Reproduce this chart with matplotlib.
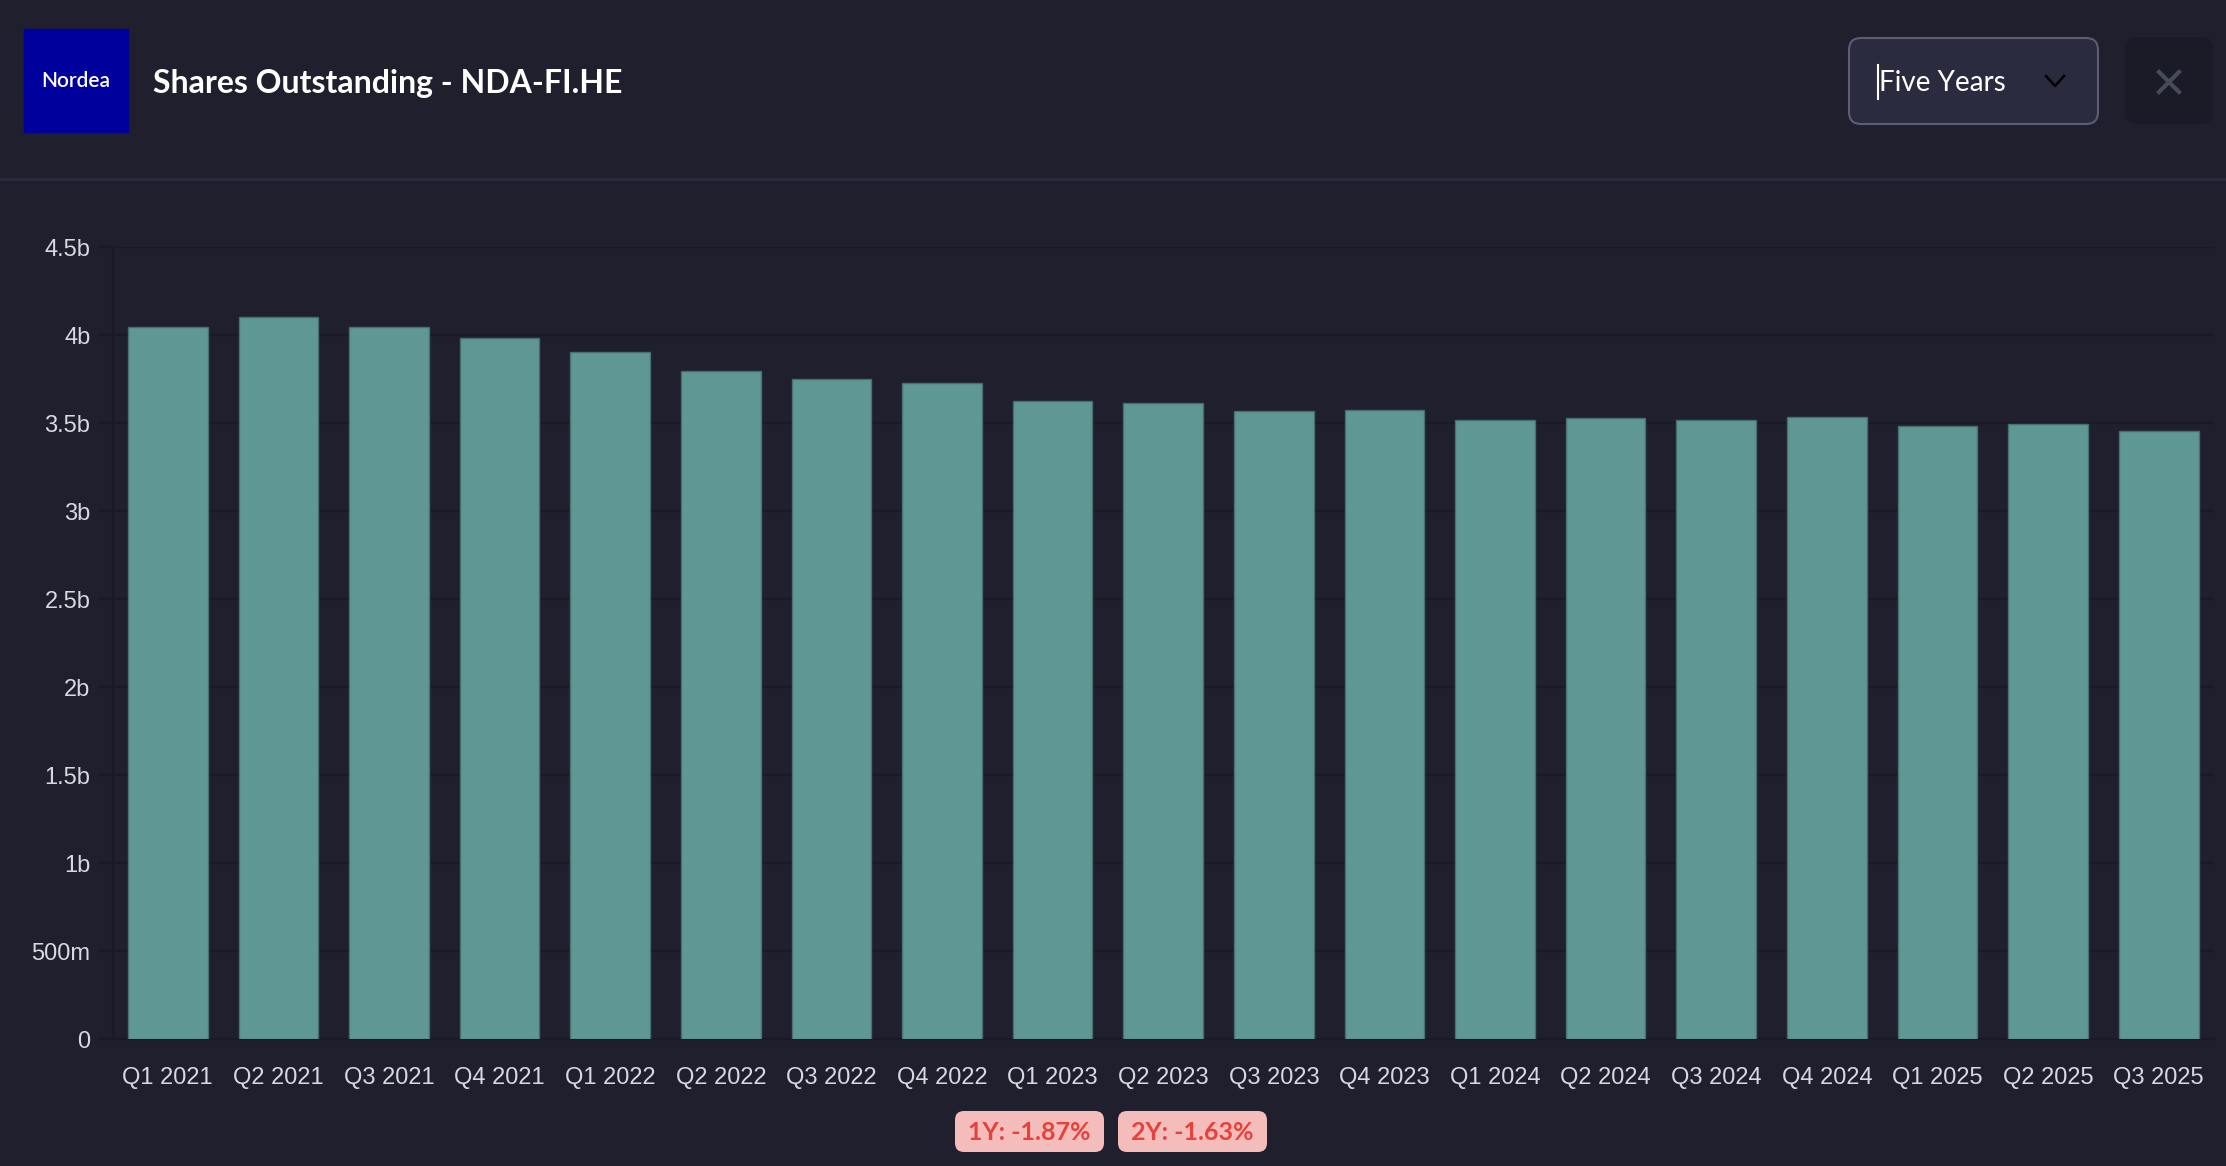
import matplotlib
matplotlib.use("Agg")
import matplotlib.pyplot as plt
from matplotlib.patches import Rectangle, FancyBboxPatch
from matplotlib.ticker import FuncFormatter, MultipleLocator

# quarterly shares outstanding, billions
quarters = ['Q1 2021', 'Q2 2021', 'Q3 2021', 'Q4 2021',
            'Q1 2022', 'Q2 2022', 'Q3 2022', 'Q4 2022',
            'Q1 2023', 'Q2 2023', 'Q3 2023', 'Q4 2023',
            'Q1 2024', 'Q2 2024', 'Q3 2024', 'Q4 2024',
            'Q1 2025', 'Q2 2025', 'Q3 2025']
shares_bn = [4.045, 4.104, 4.047, 3.983,
             3.905, 3.797, 3.752, 3.725,
             3.627, 3.614, 3.570, 3.572,
             3.517, 3.526, 3.520, 3.532,
             3.486, 3.492, 3.455]
badges = ['1Y: -1.87%', '2Y: -1.63%']
title = 'Shares Outstanding - NDA-FI.HE'
period = 'Five Years'

BG = '#1f1f2e'
GRID = '#1a1a27'
BAR = '#5e9794'
TXT = '#d8d8e0'

W, H = 2226, 1166
fig = plt.figure(figsize=(W / 100, H / 100), dpi=100, facecolor=BG)

# header / overlay drawn in pixel coordinates
ov = fig.add_axes([0, 0, 1, 1])
ov.set_xlim(0, W)
ov.set_ylim(H, 0)
ov.axis('off')
ov.set_facecolor('none')

ov.add_patch(Rectangle((24, 29), 104, 103, color='#00009c'))
ov.text(76, 81, 'Nordea', color='white', fontsize=15, family='Lato',
        weight='semibold', ha='center', va='center')
ov.text(153, 83, title, color='white', fontsize=23, family='Lato',
        weight='bold', ha='left', va='center')

# dropdown
ov.add_patch(FancyBboxPatch((1849, 38), 249, 86,
                            boxstyle='round,pad=0,rounding_size=12',
                            fc='#2b2b40', ec='#5c5c72', lw=1.5))
ov.text(1879, 83, period, color='white', fontsize=20, family='Lato',
        ha='left', va='center')
ov.plot([1878, 1878], [65, 99], color='white', lw=1.5)
ov.plot([2046, 2055, 2064], [76, 86, 76], color='black', lw=1.8)

# close button
ov.add_patch(FancyBboxPatch((2125, 37), 88, 87,
                            boxstyle='round,pad=0,rounding_size=12',
                            fc='#1b1b27', ec='none'))
ov.plot([2159, 2179], [72, 92], color='#474c5a', lw=3)
ov.plot([2159, 2179], [92, 72], color='#474c5a', lw=3)

# header separator
ov.plot([0, W], [179, 179], color='#2c2c3e', lw=2)

# change badges
bx = [955, 1118]
for x0, label in zip(bx, badges):
    ov.add_patch(FancyBboxPatch((x0, 1111), 149, 41,
                                boxstyle='round,pad=0,rounding_size=9',
                                fc='#f5bcbc', ec='none'))
    ov.text(x0 + 74.5, 1132, label, color='#e8413a', fontsize=18,
            family='Lato', weight='bold', ha='center', va='center')

# chart
ax = fig.add_axes([112.5 / W, 126.7 / H, (2214 - 112.5) / W, (919 - 126.7) / H])
ax.set_facecolor(BG)
x = list(range(len(quarters)))
ax.bar(x, [v * 1e9 for v in shares_bn], width=0.72, color=BAR,
       edgecolor='#456f70', linewidth=1, zorder=3)
ax.set_xlim(-0.5, len(quarters) - 0.5)
ax.set_ylim(0, 4.5e9)
ax.yaxis.set_major_locator(MultipleLocator(0.5e9))


def fmt(v, pos):
    if v == 0:
        return '0'
    if v < 1e9:
        return '%dm' % round(v / 1e6)
    return ('%g' % (v / 1e9)) + 'b'


ax.yaxis.set_major_formatter(FuncFormatter(fmt))
ax.set_xticks(x)
ax.set_xticklabels(quarters)
ax.grid(axis='y', color=GRID, lw=1.5, zorder=0)
for s in ['top', 'right']:
    ax.spines[s].set_visible(False)
ax.spines['left'].set_color(GRID)
ax.spines['left'].set_linewidth(1.5)
ax.spines['bottom'].set_color(GRID)
ax.spines['bottom'].set_linewidth(1.5)
ax.tick_params(axis='y', length=11, width=1.5, color=GRID, pad=5,
               labelcolor=TXT, labelsize=17)
ax.tick_params(axis='x', length=0, pad=20, labelcolor=TXT, labelsize=17)
for lab in ax.get_xticklabels() + ax.get_yticklabels():
    lab.set_family('Liberation Sans')

fig.savefig('out.png', dpi=100, facecolor=BG)
